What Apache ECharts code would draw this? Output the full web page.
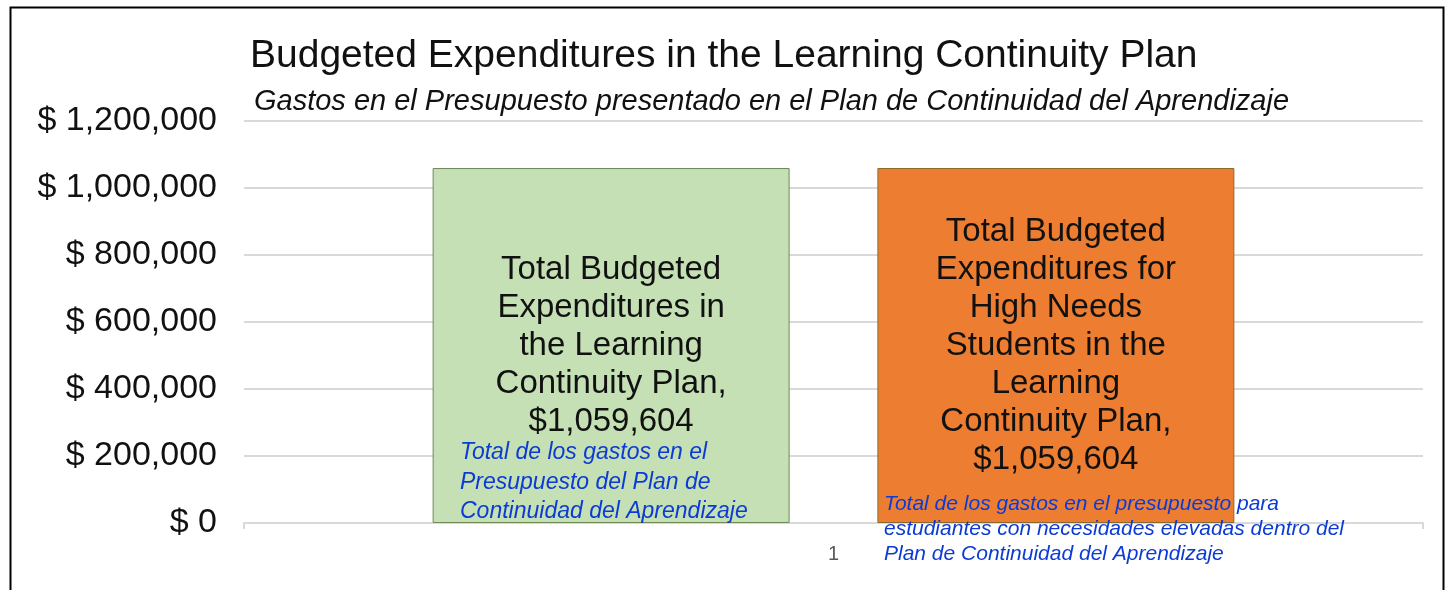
<!DOCTYPE html>
<html>
<head>
<meta charset="utf-8">
<script src="https://cdn.jsdelivr.net/npm/echarts@6/dist/echarts.min.js"></script>
<style>
  html,body{margin:0;padding:0;background:#fff;}
  #main{width:1448px;height:590px;}
</style>
</head>
<body>
<div id="main"></div>
<script>
// datos del gráfico
var categories = ['1'];
var seriesNames = [
  'Total Budgeted\nExpenditures in\nthe Learning\nContinuity Plan',
  'Total Budgeted\nExpenditures for\nHigh Needs\nStudents in the\nLearning\nContinuity Plan'
];
var generalValues = [1059604];
var highNeedsValues = [1059604];
var yTicks = [0, 200000, 400000, 600000, 800000, 1000000, 1200000];
var notes = [
  'Total de los gastos en el\nPresupuesto del Plan de\nContinuidad del Aprendizaje',
  'Total de los gastos en el presupuesto para\nestudiantes con necesidades elevadas dentro del\nPlan de Continuidad del Aprendizaje'
];

var FONT = '"Liberation Sans", Arial, sans-serif';
function money(v){ return '$' + v.toLocaleString('en-US'); }

var chart = echarts.init(document.getElementById('main'));
var option = {
  animation: false,
  textStyle: {fontFamily: FONT},
  title: [{
    text: 'Budgeted Expenditures in the Learning Continuity Plan',
    left: 245, top: 32,
    textStyle: {fontFamily: FONT, fontSize: 39, fontWeight: 'normal', color: '#111'}
  }, {
    text: 'Gastos en el Presupuesto presentado en el Plan de Continuidad del Aprendizaje',
    left: 249, top: 82,
    textStyle: {fontFamily: FONT, fontSize: 29, fontStyle: 'italic', fontWeight: 'normal', color: '#111'}
  }],
  grid: {left: 244, right: 25, top: 121, bottom: 67},
  xAxis: {
    type: 'category',
    data: categories,
    axisLine: {lineStyle: {color: '#d9d9d9', width: 2}},
    axisTick: {show: true, alignWithLabel: false, length: 6, lineStyle: {color: '#d9d9d9', width: 2}},
    axisLabel: {color: '#595959', fontSize: 20, margin: 21, fontFamily: FONT}
  },
  yAxis: {
    type: 'value',
    min: yTicks[0], max: yTicks[yTicks.length - 1], interval: 200000,
    axisLine: {show: false},
    axisTick: {show: false},
    splitLine: {lineStyle: {color: '#d9d9d9', width: 2}},
    axisLabel: {
      color: '#111', fontSize: 34, margin: 27, fontFamily: FONT,
      formatter: function(v){ return '$ ' + v.toLocaleString('en-US'); }
    }
  },
  series: [{
    name: seriesNames[0],
    type: 'bar',
    data: generalValues,
    barGap: '24.6%',
    barCategoryGap: '32%',
    itemStyle: {color: '#C5E0B4', borderColor: '#6f8a55', borderWidth: 1},
    label: {
      show: true, position: 'inside', color: '#111', fontSize: 33, lineHeight: 38, fontFamily: FONT,
      formatter: function(p){ return p.seriesName + ',\n' + money(p.value); }
    }
  }, {
    name: seriesNames[1],
    type: 'bar',
    data: highNeedsValues,
    itemStyle: {color: '#ED7D31', borderColor: '#8a6a2a', borderWidth: 1},
    label: {
      show: true, position: 'inside', color: '#111', fontSize: 33, lineHeight: 38, fontFamily: FONT,
      formatter: function(p){ return p.seriesName + ',\n' + money(p.value); }
    }
  }],
  graphic: [{
    type: 'rect', left: 8, top: 5, z: 100, silent: true,
    shape: {width: 1433, height: 600},
    style: {fill: 'none', stroke: '#000', lineWidth: 2}
  }, {
    type: 'text', left: 460, top: 438, z: 110,
    style: {text: notes[0], fill: '#0b3bd4', font: 'italic 23px ' + FONT, lineHeight: 29.5}
  }, {
    type: 'text', left: 884, top: 492, z: 110,
    style: {text: notes[1], fill: '#0b3bd4', font: 'italic 21px ' + FONT, lineHeight: 25}
  }]
};
chart.setOption(option);
</script>
</body>
</html>
